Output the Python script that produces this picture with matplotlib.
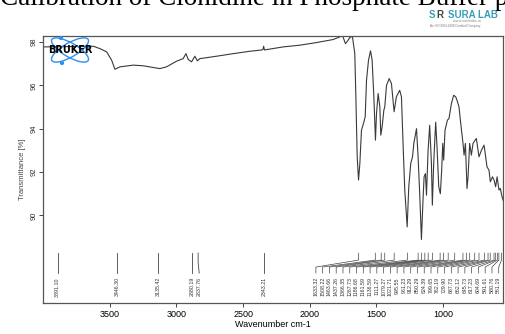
import numpy as np
import matplotlib
matplotlib.use("Agg")
import matplotlib.pyplot as plt
from matplotlib.patches import Ellipse, Circle

plt.rcParams['font.family'] = ['Liberation Sans', 'DejaVu Sans']

# IR spectrum trace (wavenumber in cm-1, transmittance in %)
wavenumber = [4000, 3624, 3574, 3524, 3487, 3462, 3424, 3325, 3250, 3125, 3075,
              3000, 2950, 2929, 2912, 2887, 2862, 2844, 2824, 2700, 2574, 2449,
              2374, 2352, 2346, 2340, 2200, 2074, 1950, 1825, 1775, 1755, 1732,
              1712, 1700, 1680, 1662, 1654, 1644, 1634, 1624, 1612, 1594, 1584,
              1574, 1559, 1544, 1532, 1519, 1507, 1499, 1487, 1474, 1467, 1457,
              1444, 1437, 1424, 1404, 1387, 1367, 1350, 1325, 1312, 1299, 1287,
              1269, 1257, 1242, 1229, 1219, 1199, 1187, 1174, 1162, 1149, 1142,
              1132, 1124, 1112, 1100, 1087, 1080, 1070, 1055, 1045, 1032, 1020,
              1010, 1002, 995, 985, 967, 955, 937, 920, 905, 895, 880, 867, 850,
              842, 832, 820, 812, 800, 787, 775, 750, 730, 712, 692, 680, 670,
              655, 645, 629, 617, 605, 594, 580, 570, 557, 545]
transmittance = [97.77, 97.80, 97.69, 97.54, 97.16, 96.74, 96.85, 96.93, 96.90,
                 96.77, 96.85, 97.11, 97.23, 97.46, 97.19, 97.08, 97.34, 97.13,
                 97.23, 97.34, 97.46, 97.57, 97.62, 97.64, 97.80, 97.63, 97.77,
                 97.85, 97.97, 98.11, 98.23, 98.31, 97.92, 98.08, 98.20, 98.26,
                 97.46, 95.47, 92.70, 91.63, 92.40, 93.93, 94.30, 94.55, 96.24,
                 97.16, 97.59, 97.16, 95.47, 93.47, 94.70, 95.62, 95.00, 93.70,
                 94.08, 94.85, 95.00, 96.00, 96.31, 96.08, 94.78, 95.47, 95.77,
                 95.47, 93.16, 91.17, 89.47, 91.32, 92.40, 92.70, 93.32, 94.00,
                 92.70, 90.86, 88.89, 90.86, 91.78, 91.93, 90.93, 93.00, 94.16,
                 92.40, 90.47, 92.40, 94.30, 93.16, 91.32, 91.00, 92.09, 93.32,
                 92.55, 93.93, 94.39, 94.47, 95.16, 95.54, 95.47, 95.31, 95.00,
                 94.24, 93.32, 92.78, 93.32, 91.24, 91.78, 93.32, 92.78, 93.32,
                 93.55, 92.70, 93.00, 93.24, 92.70, 92.24, 92.09, 91.55, 91.78,
                 91.63, 91.32, 91.78, 91.17, 91.24, 90.86, 90.63]

# Isolated peak picks in the high-wavenumber region
peaks_left = [3891.10, 3446.30, 3135.42, 2880.19, 2837.76, 2343.21]
# Crowded peak picks in the fingerprint region
peaks_right = [1633.32, 1508.22, 1463.66, 1437.26, 1366.35, 1267.73, 1186.68,
               1161.59, 1136.59, 1111.27, 1079.27, 1021.71, 995.55, 961.23,
               912.29, 850.29, 824.39, 799.65, 762.19, 729.90, 687.73, 662.12,
               645.73, 617.23, 604.69, 591.61, 580.76, 561.19]

x_ticks = [3500, 3000, 2500, 2000, 1500, 1000]
y_ticks = [90, 92, 94, 96, 98]

W, H = 505, 334
fig = plt.figure(figsize=(W / 100, H / 100), dpi=100)
ax = fig.add_axes([0.0851, 0.0928, 0.9109, 0.7992])

ax.plot(wavenumber, transmittance, color='#3a3a3a', lw=0.8)
ax.set_xlim(4002, 550)
ax.set_ylim(85.96, 98.27)

ax.set_xticks(x_ticks)
ax.set_yticks(y_ticks)
ax.tick_params(axis='x', labelsize=6.5, length=3, width=0.7, color='#444', pad=2)
ax.tick_params(axis='y', labelsize=5.5, length=3, width=0.7, color='#444', pad=1,
               labelcolor='#333')
for lbl in ax.get_yticklabels():
    lbl.set_rotation(90)
    lbl.set_va('center')
for sp in ax.spines.values():
    sp.set_color('#555')
    sp.set_linewidth(0.9)

ax.set_xlabel('Wavenumber cm-1', fontsize=6.5, labelpad=1)
ax.set_ylabel('Transmittance [%]', fontsize=5.5, color='#444', labelpad=3)


def y_of(py):
    """Pixel row of the figure -> transmittance value on the axis."""
    return 98.0 - (py - 41.7) / 21.7


lbl_kw = dict(rotation=90, fontsize=3.8, color='#333', ha='center', va='top')
for i, p in enumerate(peaks_left):
    lx = p - 8 if i == 4 else p
    ax.plot([p, p, lx], [y_of(253), y_of(262), y_of(273)], color='#444', lw=0.6)
    ax.text(lx, y_of(277), f'{p:.2f}', **lbl_kw)

label_x = np.linspace(1954, 582, len(peaks_right))
for p, lx in zip(peaks_right, label_x):
    ax.plot([p, p, lx, lx], [y_of(253), y_of(260), y_of(267), y_of(273)],
            color='#444', lw=0.5)
    ax.text(lx, y_of(277), f'{p:.2f}', **lbl_kw)

# instrument logo: atom orbits with the brand name across them
for ang in (30, -30):
    fig.patches.append(Ellipse((70, H - 50), 42, 14, angle=ang, fill=False,
                               ec='#2f8ff0', lw=1.0, transform=None))
for (cx, cy) in ((61, 38), (88, 47), (62, 63)):
    fig.patches.append(Circle((cx, H - cy), 1.4, color='#2f8ff0',
                              transform=None))
fig.text(70 / W, 1 - 50 / H, 'BRUKER', fontsize=7, fontweight='bold',
         ha='center', va='center', color='black', family='DejaVu Sans')

# page title running off the top edge, and the lab logo
fig.text(0.0, 1 - 5.0 / H, 'Calibration of Clonidine in Phosphate Buffer pH',
         fontsize=19.5, family='Liberation Serif', ha='left', va='baseline')
fig.text(448 / W, 1 - 15 / H, 'SURA LAB', fontsize=7, fontweight='bold',
         color='#3a9db8', ha='left', va='center')
fig.text(453 / W, 1 - 21.5 / H, 'www.suralabs.in', fontsize=2.8,
         color='#888', ha='left', va='center')
fig.text(430 / W, 1 - 26 / H, 'An ISO 9001:2008 Certified Company',
         fontsize=2.2, color='#777', ha='left', va='center')
fig.text(429 / W, 1 - 15.5 / H, 'S', fontsize=7, fontweight='bold',
         color='#3a9db8', ha='left', va='center')
fig.text(436 / W, 1 - 15.5 / H, 'R', fontsize=7, fontweight='bold',
         color='#444', ha='left', va='center')

fig.savefig('out.png', dpi=100)
